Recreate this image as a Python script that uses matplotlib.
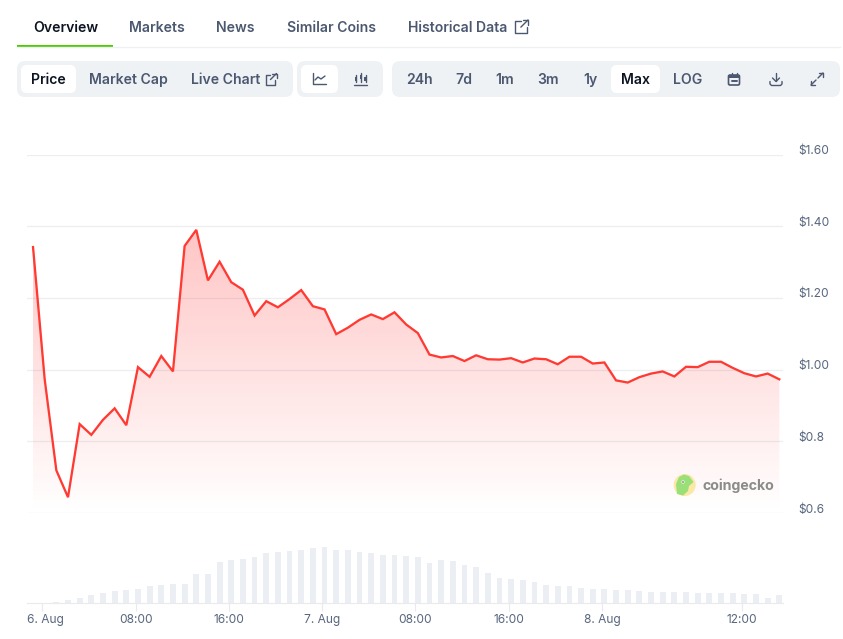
import numpy as np
import pandas as pd
import matplotlib
matplotlib.use("Agg")
import matplotlib.pyplot as plt
import matplotlib.dates as mdates
from matplotlib.patches import FancyBboxPatch, Circle, Polygon, Rectangle
from matplotlib.transforms import ScaledTranslation

W, H = 843, 639
plt.rcParams['font.family'] = ['Inter', 'DejaVu Sans']

# hourly prices
price = [1.342, 0.973, 0.719, 0.644, 0.848, 0.818, 0.860, 0.892, 0.845, 1.007,
         0.980, 1.038, 0.995, 1.345, 1.390, 1.249, 1.301, 1.244, 1.223, 1.151,
         1.191, 1.174, 1.197, 1.222, 1.177, 1.168, 1.099, 1.117, 1.139, 1.154,
         1.141, 1.160, 1.126, 1.102, 1.042, 1.034, 1.038, 1.024, 1.040, 1.029,
         1.028, 1.032, 1.020, 1.031, 1.029, 1.015, 1.036, 1.036, 1.017, 1.020,
         0.970, 0.964, 0.979, 0.989, 0.995, 0.981, 1.008, 1.007, 1.022, 1.022,
         1.005, 0.990, 0.981, 0.989, 0.973]
# volume, relative units
volume = [0, 0, 4, 10, 19, 28, 34, 40, 43, 49, 58, 61, 64, 64, 97, 97, 136, 145,
          148, 154, 166, 169, 175, 178, 184, 187, 178, 178, 169, 166, 160, 160,
          157, 154, 133, 145, 142, 127, 121, 100, 85, 82, 79, 70, 61, 58, 58, 52,
          49, 46, 43, 43, 40, 37, 37, 37, 37, 34, 34, 34, 34, 31, 31, 16, 28]
times = pd.date_range("2024-08-05 23:12", periods=len(price), freq="h")

y_ticks = [0.6, 0.8, 1.0, 1.2, 1.4, 1.6]
y_labels = ["$0.6", "$0.8", "$1.00", "$1.20", "$1.40", "$1.60"]
x_ticks = pd.to_datetime(["2024-08-06 00:00", "2024-08-06 08:00", "2024-08-06 16:00",
                          "2024-08-07 00:00", "2024-08-07 08:00", "2024-08-07 16:00",
                          "2024-08-08 00:00", "2024-08-08 12:00"])
x_labels = ["6. Aug", "08:00", "16:00", "7. Aug", "08:00", "16:00", "8. Aug", "12:00"]

x_min = pd.Timestamp("2024-08-05 22:41")
x_max = pd.Timestamp("2024-08-08 15:31")

DARK = "#0d1421"
SLATE = "#4b5870"
TICK_TEXT = "#58667e"
GROUP_BG = "#eff2f5"
RED = "#ff3a33"


def px_axes(fig, x0, y0, x1, y1):
    # axes from pixel box, y measured from the top of the image
    return fig.add_axes([x0 / W, 1 - y1 / H, (x1 - x0) / W, (y1 - y0) / H])


fig = plt.figure(figsize=(W / 100, H / 100), dpi=100, facecolor="white")

# price panel
ax = px_axes(fig, 27, 154.6, 783, 513)
ax.set_facecolor("none")
ax.set_yticks(y_ticks)
ax.set_yticklabels(y_labels, color=TICK_TEXT, fontsize=8.6)
ax.yaxis.tick_right()
ax.tick_params(axis="y", length=0, pad=10.8)
ax.tick_params(axis="x", bottom=False, labelbottom=False)
ax.grid(axis="y", color="#eceef1", lw=0.9)
ax.set_axisbelow(True)
for s in ax.spines.values():
    s.set_visible(False)

fill = ax.fill_between(times, price, 0.6, color="none", lw=0)
t0, t1 = mdates.date2num(times[0]), mdates.date2num(times[-1])
grad = np.zeros((256, 2, 4))
grad[..., 0] = 1.0
grad[..., 1] = 0.12
grad[..., 2] = 0.12
grad[..., 3] = np.linspace(0.26, 0.0, 256)[:, None]
im = ax.imshow(grad, extent=[t0, t1, 0.6, max(price)], aspect="auto", origin="upper",
               zorder=2, interpolation="bilinear")
im.set_clip_path(fill.get_paths()[0], transform=ax.transData)
ax.plot(times, price, color=RED, lw=1.65, zorder=3, solid_joinstyle="miter")
ax.set_xlim(x_min, x_max)
ax.set_ylim(0.6, 1.6)
for lbl in ax.get_yticklabels():
    lbl.set_transform(lbl.get_transform() + ScaledTranslation(0, 0.05, fig.dpi_scale_trans))

# volume panel
ax2 = px_axes(fig, 27, 538, 783, 603.3)
ax2.set_facecolor("none")
ax2.bar(times, volume, width=0.5 / 24, color="#ebeef2", lw=0)
ax2.set_xlim(x_min, x_max)
ax2.set_ylim(0, 217)
ax2.set_yticks([])
ax2.set_xticks(x_ticks)
ax2.set_xticklabels(x_labels, color=TICK_TEXT, fontsize=8.6)
ax2.tick_params(axis="x", length=6, width=0.8, color="#e8eaee", pad=1.5)
for name, s in ax2.spines.items():
    s.set_visible(name == "bottom")
    s.set_color("#e8eaee")
first = ax2.get_xticklabels()[0]
first.set_transform(first.get_transform() + ScaledTranslation(0.03, 0, fig.dpi_scale_trans))

# page furniture, in pixels
ui = fig.add_axes([0, 0, 1, 1], zorder=5)
ui.set_xlim(0, W)
ui.set_ylim(H, 0)
ui.axis("off")
ui.patch.set_visible(False)


def box(x0, y0, x1, y1, color, r=8, **kw):
    ui.add_patch(FancyBboxPatch((x0, y0), x1 - x0, y1 - y0,
                                boxstyle=f"round,pad=0,rounding_size={r}",
                                fc=color, ec="none", lw=0, **kw))


def label(x, y, s, color=SLATE, size=10.1, weight=600, ha="center"):
    ui.text(x, y + 0.8, s, color=color, fontsize=size, fontweight=weight, ha=ha, va="center")


def stroke(xs, ys, color=SLATE, lw=1.0):
    ui.plot(xs, ys, color=color, lw=lw, solid_capstyle="round", solid_joinstyle="round")


def link_icon(x, y, s=13):
    # square with an arrow going out of the top right corner
    stroke([x + s * 0.45, x, x, x + s * 0.9, x + s * 0.9],
           [y + s * 0.1, y + s * 0.1, y + s, y + s, y + s * 0.55])
    stroke([x + s * 0.45, x + s], [y + s * 0.55, y])
    stroke([x + s * 0.6, x + s, x + s], [y, y, y + s * 0.4])


# tabs
ui.plot([17, 840], [46.5, 46.5], color="#eff0f3", lw=1)
ui.add_patch(Rectangle((17, 45), 96, 2, fc="#4bcc00", ec="none"))
label(65.5, 27, "Overview", color=DARK)
label(157, 27, "Markets")
label(235.5, 27, "News")
label(331.5, 27, "Similar Coins")
label(457.5, 27, "Historical Data")
link_icon(515, 20)

# button groups
box(17, 61, 293, 97, GROUP_BG)
box(297, 61, 383, 97, GROUP_BG)
box(392, 61, 840, 97, GROUP_BG)
box(21, 65, 76, 93, "white", r=6)
box(301, 65, 338, 93, "white", r=6)
box(611, 65, 660, 93, "white", r=6)

label(48, 79, "Price", color=DARK)
label(128, 79, "Market Cap")
label(225.5, 79, "Live Chart")
link_icon(265.5, 73.5, s=11)
label(419, 79, "24h")
label(463.5, 79, "7d")
label(504.5, 79, "1m")
label(548, 79, "3m")
label(590, 79, "1y")
label(635, 79, "Max", color=DARK)
label(687.5, 79, "LOG")

# line chart icon
stroke([313, 313, 326], [73, 84, 84])
stroke([315, 318, 321, 325], [80, 77, 79, 76])
# candle icon
for cx, top, bot in [(356, 75, 82), (361, 73, 82), (365.5, 75, 82)]:
    stroke([cx, cx], [top, bot])
    ui.add_patch(Rectangle((cx - 1.2, top + 2), 2.4, 4, fc=SLATE, ec="none"))
stroke([354, 367], [84.5, 84.5])
# calendar
ui.add_patch(FancyBboxPatch((728.5, 75), 11, 10, boxstyle="round,pad=0,rounding_size=1.5",
                            fc="none", ec=SLATE, lw=1.2))
ui.add_patch(Rectangle((728.5, 75), 11, 2.5, fc=SLATE, ec="none"))
stroke([731.5, 731.5], [73, 75])
stroke([736.5, 736.5], [73, 75])
stroke([731.5, 736.5], [80.5, 80.5], lw=1.4)
# download
stroke([776, 776], [72.5, 81])
stroke([772.5, 776, 779.5], [78, 81.5, 78])
stroke([770, 770, 771.5, 780.5, 782, 782], [81.5, 84, 85.5, 85.5, 84, 81.5])
# expand
stroke([811, 816], [85, 80])
stroke([811, 811, 815], [81, 85, 85])
stroke([818, 823], [78, 73])
stroke([819, 823, 823], [73, 73, 77])

# watermark
ui.add_patch(Circle((684.7, 485), 11, fc="#fbe8a6", ec="none"))
ui.add_patch(Polygon([(677, 494), (676, 484), (679, 477), (684, 474.5), (689, 476),
                      (693.5, 482), (689, 486), (688, 491), (683, 495.5)],
                     closed=True, fc="#9bdf78", ec="none"))
ui.add_patch(Circle((683, 482), 1.6, fc="white", ec="none"))
ui.add_patch(Circle((683, 482), 0.8, fc="#555555", ec="none"))
label(702.8, 484.5, "coingecko", color="#8b8b8b", size=10.2, weight=700, ha="left")

fig.savefig("out.png", dpi=100, facecolor="white")
